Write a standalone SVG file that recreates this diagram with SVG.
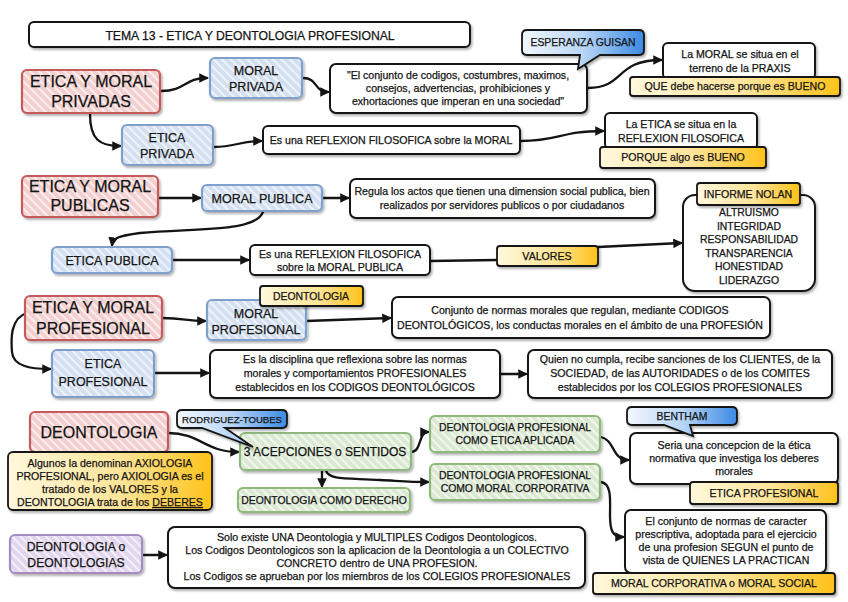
<svg xmlns="http://www.w3.org/2000/svg" width="848" height="602" viewBox="0 0 848 602">
<defs>
<style>
text{font-family:"Liberation Sans",Arial,sans-serif;fill:#141414;stroke:#141414;stroke-width:0.25;text-anchor:middle}
.w{fill:#fff;stroke:#141414;stroke-width:2}
.red{fill:url(#hr);stroke:#c65a5a;stroke-width:2.2}
.blue{fill:url(#hb);stroke:#7f9fcc;stroke-width:2.2}
.green{fill:url(#hg);stroke:#8fb87c;stroke-width:2.2}
.purple{fill:url(#hp);stroke:#a48bc0;stroke-width:2.2}
.yel{fill:url(#gy);stroke:#141414;stroke-width:1.8}
.call{fill:url(#gb);stroke:#141414;stroke-width:1.8}
.c{fill:none;stroke:#141414;stroke-width:2.3;stroke-linecap:round}
.a{marker-end:url(#ar)}
.h{font-size:16px}
.n{font-size:12.5px}
.t{font-size:10.6px}
.s{font-size:10.4px}
</style>
<pattern id="hr" patternUnits="userSpaceOnUse" width="6" height="6" patternTransform="rotate(-45)"><rect width="6" height="6" fill="#f3cfcf"/><rect width="2" height="6" fill="#fbeeee"/></pattern>
<pattern id="hb" patternUnits="userSpaceOnUse" width="6" height="6" patternTransform="rotate(-45)"><rect width="6" height="6" fill="#d4e0f1"/><rect width="2" height="6" fill="#eef3fa"/></pattern>
<pattern id="hg" patternUnits="userSpaceOnUse" width="6" height="6" patternTransform="rotate(-45)"><rect width="6" height="6" fill="#dbe9d2"/><rect width="2" height="6" fill="#f1f7ed"/></pattern>
<pattern id="hp" patternUnits="userSpaceOnUse" width="6" height="6" patternTransform="rotate(-45)"><rect width="6" height="6" fill="#e2d6ee"/><rect width="2" height="6" fill="#f4eff9"/></pattern>
<linearGradient id="gy" x1="0" y1="0" x2="1" y2="0"><stop offset="0" stop-color="#fff8dc"/><stop offset="0.55" stop-color="#ffe59a"/><stop offset="1" stop-color="#ffc21a"/></linearGradient>
<linearGradient id="gb" x1="0" y1="0" x2="1" y2="0"><stop offset="0" stop-color="#f2f7fd"/><stop offset="0.5" stop-color="#b9d6f6"/><stop offset="1" stop-color="#3b8ae4"/></linearGradient>
<filter id="sh" x="-10%" y="-10%" width="130%" height="140%"><feDropShadow dx="1.5" dy="2" stdDeviation="1" flood-color="#000" flood-opacity="0.3"/></filter>
<marker id="ar" viewBox="0 0 10 10" refX="8" refY="5" markerWidth="4.2" markerHeight="4.2" orient="auto"><path d="M0,0 L10,5 L0,10 z" fill="#141414"/></marker>
</defs>
<rect width="848" height="602" fill="#fff"/>

<g id="connectors">
<path class="c a" d="M161,91 C186,91 184,78 207,78"/>
<path class="c a" d="M303,78 C318,78 314,92 328,92"/>
<path class="c a" d="M90,114 C90,140 100,146 120,146"/>
<path class="c a" d="M214,147 C235,147 240,141 261,141"/>
<path class="c a" d="M588,88 C625,88 615,60 661,60"/>
<path class="c a" d="M521,141 C560,141 560,131 603,131"/>
<path class="c a" d="M158,198 L200,198"/>
<path class="c a" d="M322,198 L348,198"/>
<path class="c a" d="M263,212 C255,232 200,228 140,233 C118,236 113,238 112,245"/>
<path class="c a" d="M172,260 L248,260"/>
<path class="c" d="M430,261 L497,260"/>
<path class="c a" d="M598,247 L681,243"/>
<path class="c a" d="M162,318 C185,318 185,321 205,321"/>
<path class="c a" d="M306,321 L390,318"/>
<path class="c a" d="M27,313 C10,318 11,340 12,352 C13,366 30,369 50,369"/>
<path class="c a" d="M155,373 L208,373"/>
<path class="c a" d="M501,374 L526,374"/>
<path class="c a" d="M168,433 C200,433 205,452 238,452"/>
<path class="c a" d="M411,452 C422,452 418,432 428,432"/>
<path class="c a" d="M322,471 L322,486"/>
<path class="c a" d="M326,471 C330,480 345,478 380,480 C400,481 410,482 428,482"/>
<path class="c a" d="M601,437 C615,440 612,460 628,460"/>
<path class="c a" d="M601,482 C612,484 610,500 610,515 C610,530 612,537 623,537"/>
<path class="c a" d="M142,555 L166,555"/>
</g>

<g id="title"><rect class="w" x="29" y="22" width="441" height="25" rx="5" filter="url(#sh)"/><text x="250" y="40" style="font-size:12.2px">TEMA 13 - ETICA Y DEONTOLOGIA PROFESIONAL</text></g>

<g id="n-privadas"><rect class="red" x="22" y="70" width="138" height="43" rx="5" filter="url(#sh)"/><text class="h" x="91" y="87">ETICA Y MORAL</text><text class="h" x="91" y="107">PRIVADAS</text></g>
<g id="n-moral-privada"><rect class="blue" x="210" y="58" width="92" height="40" rx="5" filter="url(#sh)"/><text class="n" x="256" y="75">MORAL</text><text class="n" x="256" y="91">PRIVADA</text></g>
<g id="n-quote"><rect class="w" x="330" y="64" width="257" height="49" rx="6" filter="url(#sh)"/><text class="t" x="458" y="79">"El conjunto de codigos, costumbres, maximos,</text><text class="t" x="458" y="92">consejos, advertencias, prohibiciones y</text><text class="t" x="458" y="105">exhortaciones que imperan en una sociedad"</text></g>
<g id="n-guisan"><path class="call" d="M527,30 H639 Q644,30 644,35 V50 Q644,55 639,55 H600 L578,69 L580,55 H527 Q522,55 522,50 V35 Q522,30 527,30 Z" filter="url(#sh)"/><text class="s" x="583" y="46">ESPERANZA GUISAN</text></g>
<g id="n-praxis"><rect class="w" x="663" y="43" width="152" height="36" rx="5" filter="url(#sh)"/><text class="t" x="740" y="58">La MORAL se situa en el</text><text class="t" x="740" y="72">terreno de la PRAXIS</text></g>
<g id="n-bueno1"><rect class="yel" x="630" y="77" width="210" height="19" rx="3" filter="url(#sh)"/><text class="t" x="735" y="90">QUE debe hacerse porque es BUENO</text></g>
<g id="n-etica-privada"><rect class="blue" x="122" y="125" width="91" height="40" rx="5" filter="url(#sh)"/><text class="n" x="167" y="142">ETICA</text><text class="n" x="167" y="158">PRIVADA</text></g>
<g id="n-reflexion"><rect class="w" x="263" y="126" width="257" height="28" rx="5" filter="url(#sh)"/><text class="t" x="391" y="144">Es una REFLEXION FILOSOFICA sobre la MORAL</text></g>
<g id="n-etica-reflexion"><rect class="w" x="605" y="113" width="152" height="36" rx="5" filter="url(#sh)"/><text class="t" x="681" y="128">La ETICA se situa en la</text><text class="t" x="681" y="142">REFLEXION FILOSOFICA</text></g>
<g id="n-bueno2"><rect class="yel" x="600" y="147" width="166" height="21" rx="3" filter="url(#sh)"/><text class="t" x="683" y="161">PORQUE algo es BUENO</text></g>

<g id="n-publicas"><rect class="red" x="22" y="176" width="136" height="41" rx="5" filter="url(#sh)"/><text class="h" x="90" y="192">ETICA Y MORAL</text><text class="h" x="90" y="211">PUBLICAS</text></g>
<g id="n-moral-publica"><rect class="blue" x="202" y="185" width="120" height="26" rx="5" filter="url(#sh)"/><text class="n" x="262" y="203">MORAL PUBLICA</text></g>
<g id="n-regula"><rect class="w" x="350" y="179" width="305" height="39" rx="6" filter="url(#sh)"/><text class="t" x="502" y="195">Regula los actos que tienen una dimension social publica, bien</text><text class="t" x="502" y="209">realizados por servidores publicos o por ciudadanos</text></g>
<g id="n-etica-publica"><rect class="blue" x="52" y="247" width="120" height="26" rx="5" filter="url(#sh)"/><text class="n" x="112" y="265">ETICA PUBLICA</text></g>
<g id="n-reflexion-publica"><rect class="w" x="250" y="245" width="180" height="30" rx="5" filter="url(#sh)"/><text class="t" x="340" y="258">Es una REFLEXION FILOSOFICA</text><text class="t" x="340" y="271">sobre la MORAL PUBLICA</text></g>
<g id="n-valores"><rect class="yel" x="497" y="246" width="101" height="20" rx="3" filter="url(#sh)"/><text class="t" x="547" y="260">VALORES</text></g>
<g id="n-nolan-list"><rect class="w" x="683" y="195" width="132" height="96" rx="12" filter="url(#sh)"/><text class="s" x="749" y="216">ALTRUISMO</text><text class="s" x="749" y="229.5">INTEGRIDAD</text><text class="s" x="749" y="243">RESPONSABILIDAD</text><text class="s" x="749" y="256.5">TRANSPARENCIA</text><text class="s" x="749" y="270">HONESTIDAD</text><text class="s" x="749" y="283.5">LIDERAZGO</text></g>
<g id="n-nolan"><rect class="yel" x="697" y="183" width="103" height="22" rx="3" filter="url(#sh)"/><text class="t" x="748" y="198">INFORME NOLAN</text></g>

<g id="n-profesional"><rect class="red" x="25" y="296" width="137" height="44" rx="5" filter="url(#sh)"/><text class="h" x="93" y="313">ETICA Y MORAL</text><text class="h" x="93" y="334">PROFESIONAL</text></g>
<g id="n-moral-profesional"><rect class="blue" x="207" y="300" width="99" height="40" rx="5" filter="url(#sh)"/><text class="n" x="256" y="318">MORAL</text><text class="n" x="256" y="334">PROFESIONAL</text></g>
<g id="n-deont-tag"><rect class="yel" x="260" y="286" width="103" height="20" rx="3" filter="url(#sh)"/><text class="s" x="311" y="300">DEONTOLOGIA</text></g>
<g id="n-conjunto"><rect class="w" x="392" y="297" width="378" height="41" rx="6" filter="url(#sh)"/><text class="t" x="580" y="314">Conjunto de normas morales que regulan, mediante CODIGOS</text><text class="t" x="580" y="329">DEONTOLÓGICOS, los conductas morales en el ámbito de una PROFESIÓN</text></g>
<g id="n-etica-profesional"><rect class="blue" x="52" y="350" width="102" height="47" rx="5" filter="url(#sh)"/><text class="n" x="103" y="368">ETICA</text><text class="n" x="103" y="386">PROFESIONAL</text></g>
<g id="n-disciplina"><rect class="w" x="210" y="350" width="290" height="48" rx="6" filter="url(#sh)"/><text class="t" x="355" y="363">Es la disciplina que reflexiona sobre las normas</text><text class="t" x="355" y="377">morales y comportamientos PROFESIONALES</text><text class="t" x="355" y="391">establecidos en los CODIGOS DEONTOLÓGICOS</text></g>
<g id="n-quien"><rect class="w" x="528" y="350" width="304" height="48" rx="6" filter="url(#sh)"/><text class="t" x="680" y="363">Quien no cumpla, recibe sanciones de los CLIENTES, de la</text><text class="t" x="680" y="377">SOCIEDAD, de las AUTORIDADES o de los COMITES</text><text class="t" x="680" y="391">establecidos por los COLEGIOS PROFESIONALES</text></g>

<g id="n-deontologia"><rect class="red" x="30" y="412" width="138" height="40" rx="5" filter="url(#sh)"/><text class="h" x="99" y="438">DEONTOLOGIA</text></g>
<g id="n-axiologia"><rect class="yel" x="8" y="452" width="204" height="58" rx="5" filter="url(#sh)"/><text class="t" x="110" y="467">Algunos la denominan AXIOLOGIA</text><text class="t" x="110" y="480">PROFESIONAL, pero AXIOLOGIA es el</text><text class="t" x="110" y="493">tratado de los VALORES y la</text><text class="t" x="110" y="506">DEONTOLOGIA trata de los <tspan text-decoration="underline">DEBERES</tspan></text></g>
<g id="n-acepciones"><rect class="green" x="240" y="433" width="171" height="37" rx="5" filter="url(#sh)"/><text style="font-size:12px" x="325" y="456">3 ACEPCIONES o SENTIDOS</text></g>
<g id="n-toubes"><path class="call" d="M182,410 H282 Q287,410 287,415 V423 Q287,428 282,428 H225 L253,447 L202,428 H182 Q177,428 177,423 V415 Q177,410 182,410 Z" filter="url(#sh)"/><text style="font-size:9.6px" x="232" y="423">RODRIGUEZ-TOUBES</text></g>
<g id="n-derecho"><rect class="green" x="238" y="488" width="172" height="24" rx="5" filter="url(#sh)"/><text class="s" x="324" y="504">DEONTOLOGIA COMO DERECHO</text></g>
<g id="n-aplicada"><rect class="green" x="430" y="416" width="170" height="36" rx="5" filter="url(#sh)"/><text class="s" x="515" y="431">DEONTOLOGIA PROFESIONAL</text><text class="s" x="515" y="444">COMO ETICA APLICADA</text></g>
<g id="n-corporativa"><rect class="green" x="430" y="464" width="170" height="36" rx="5" filter="url(#sh)"/><text class="s" x="515" y="479">DEONTOLOGIA PROFESIONAL</text><text class="s" x="515" y="492">COMO MORAL CORPORATIVA</text></g>
<g id="n-seria"><rect class="w" x="630" y="433" width="208" height="51" rx="6" filter="url(#sh)"/><text class="t" x="734" y="449">Seria una concepcion de la ética</text><text class="t" x="734" y="462">normativa que investiga los deberes</text><text class="t" x="734" y="475">morales</text></g>
<g id="n-bentham"><path class="call" d="M632,407 H732 Q737,407 737,412 V420 Q737,425 732,425 H690 L693,436 L664,425 H632 Q627,425 627,420 V412 Q627,407 632,407 Z" filter="url(#sh)"/><text class="s" x="682" y="420">BENTHAM</text></g>
<g id="n-etica-prof-tag"><rect class="yel" x="690" y="482" width="148" height="22" rx="3" filter="url(#sh)"/><text class="t" x="764" y="497">ETICA PROFESIONAL</text></g>
<g id="n-conjunto2"><rect class="w" x="625" y="510" width="201" height="63" rx="6" filter="url(#sh)"/><text class="t" x="726" y="525">El conjunto de normas de caracter</text><text class="t" x="726" y="538">prescriptiva, adoptada para el ejercicio</text><text class="t" x="726" y="551">de una profesion SEGUN el punto de</text><text class="t" x="726" y="564">vista de QUIENES LA PRACTICAN</text></g>
<g id="n-social"><rect class="yel" x="593" y="573" width="242" height="21" rx="3" filter="url(#sh)"/><text class="t" x="714" y="587">MORAL CORPORATIVA o MORAL SOCIAL</text></g>

<g id="n-deontologias"><rect class="purple" x="10" y="535" width="132" height="38" rx="5" filter="url(#sh)"/><text style="font-size:12.2px" x="76" y="551">DEONTOLOGIA o</text><text style="font-size:12.2px" x="76" y="567">DEONTOLOGIAS</text></g>
<g id="n-solo"><rect class="w" x="168" y="527" width="417" height="61" rx="7" filter="url(#sh)"/><text class="t" x="377" y="541">Solo existe UNA Deontologia y MULTIPLES Codigos Deontologicos.</text><text class="t" x="377" y="554">Los Codigos Deontologicos son la aplicacion de la Deontologia a un COLECTIVO</text><text class="t" x="377" y="567">CONCRETO dentro de UNA PROFESION.</text><text class="t" x="377" y="580">Los Codigos se aprueban por los miembros de los COLEGIOS PROFESIONALES</text></g>
</svg>
